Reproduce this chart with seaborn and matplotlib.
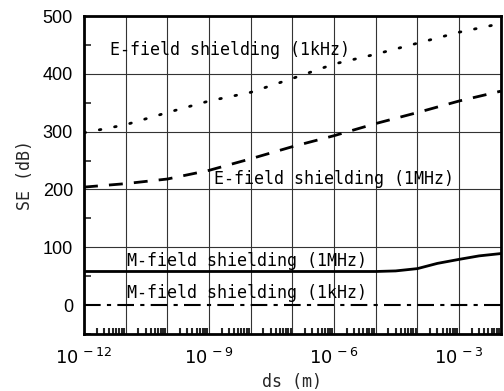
import numpy as np
import pandas as pd
import matplotlib
matplotlib.use("Agg")
import matplotlib.pyplot as plt
import matplotlib.ticker as mticker
import seaborn as sns

# ---- data ----
ds_decades = [1e-12, 1e-11, 1e-10, 1e-9, 1e-8, 1e-7, 1e-6, 1e-5, 1e-4, 1e-3, 1e-2]
se_e_1khz = [298, 312, 333, 353, 368, 392, 417, 434, 453, 472, 487]
se_e_1mhz = [204, 210, 218, 233, 253, 274, 293, 314, 333, 353, 370]

ds_m = [1e-12, 1e-11, 1e-10, 1e-9, 1e-8, 1e-7, 1e-6, 1e-5, 3e-5, 1e-4, 3e-4, 1e-3, 3e-3, 1e-2]
se_m_1mhz = [58, 58, 58, 58, 58, 58, 58, 58, 59, 63, 72, 79, 85, 89]
se_m_1khz = [0, 0, 0, 0, 0, 0, 0, 0, 0, 0, 0, 0, 0, 0]

labels = ["E-field shielding (1kHz)", "E-field shielding (1MHz)",
          "M-field shielding (1MHz)", "M-field shielding (1kHz)"]
xtick_vals = [1e-12, 1e-9, 1e-6, 1e-3]
xtick_labels = [r"$10^{\,-12}$", r"$10^{\,-9}$", r"$10^{\,-6}$", r"$10^{\,-3}$"]
ytick_vals = [0, 100, 200, 300, 400, 500]

sns.set_theme(style="white")
plt.rcParams["font.family"] = ["Liberation Sans", "DejaVu Sans"]

fig = plt.figure(figsize=(5.04, 3.91), dpi=100)
ax = fig.add_axes([0.1667, 0.146, 0.827, 0.813])

df_e1k = pd.DataFrame({"ds": ds_decades, "se": se_e_1khz})
df_e1m = pd.DataFrame({"ds": ds_decades, "se": se_e_1mhz})
df_m1m = pd.DataFrame({"ds": ds_m, "se": se_m_1mhz})
df_m1k = pd.DataFrame({"ds": ds_m, "se": se_m_1khz})

sns.lineplot(data=df_e1k, x="ds", y="se", ax=ax, color="black", lw=2.0,
             linestyle=(0, (0.6, 5.0)), dash_capstyle="round")
sns.lineplot(data=df_e1m, x="ds", y="se", ax=ax, color="black", lw=2.0,
             linestyle=(0, (5, 4)))
sns.lineplot(data=df_m1m, x="ds", y="se", ax=ax, color="black", lw=2.0)
sns.lineplot(data=df_m1k, x="ds", y="se", ax=ax, color="black", lw=1.5,
             linestyle=(0, (8, 3, 2, 3)))

ax.set_xscale("log")
ax.set_xlim(1e-12, 1e-2)
ax.set_ylim(-50, 500)

ax.xaxis.set_minor_locator(mticker.LogLocator(base=10, subs=np.arange(2, 10), numticks=100))
ax.xaxis.set_minor_formatter(mticker.NullFormatter())
ax.set_xticks(xtick_vals, xtick_labels, minor=False)
ax.set_yticks(ytick_vals)
ax.yaxis.set_minor_locator(mticker.MultipleLocator(50))

# gridlines at every decade
for d in ds_decades:
    ax.axvline(d, color="#333333", lw=0.8, zorder=0)
for v in [100, 200, 300, 400]:
    ax.axhline(v, color="#333333", lw=0.8, zorder=0)

ax.tick_params(axis="both", which="major", direction="in", length=8, width=1.2,
               labelsize=13, colors="black", pad=8)
ax.tick_params(axis="x", which="major", length=0, pad=10)
ax.tick_params(axis="x", which="minor", direction="in", length=4, width=1.5, bottom=True)
ax.tick_params(axis="y", which="minor", direction="in", length=5, width=1.2, left=True)
for s in ax.spines.values():
    s.set_color("black")
    s.set_linewidth(2.0)

tfont = dict(family=["DejaVu Sans Mono"], fontsize=12, color="black")
ax.text(4.2e-12, 442, labels[0], va="center", ha="left", **tfont)
ax.text(1.35e-9, 218, labels[1], va="center", ha="left", **tfont)
ax.text(1.1e-11, 76, labels[2], va="center", ha="left", **tfont)
ax.text(1.1e-11, 20, labels[3], va="center", ha="left", **tfont)

ax.set_xlabel("ds (m)", fontsize=12, family=["DejaVu Sans Mono"], labelpad=4)
ax.set_ylabel("SE (dB)", fontsize=12, family=["DejaVu Sans Mono"], labelpad=6)

fig.savefig("out.png", dpi=100)
